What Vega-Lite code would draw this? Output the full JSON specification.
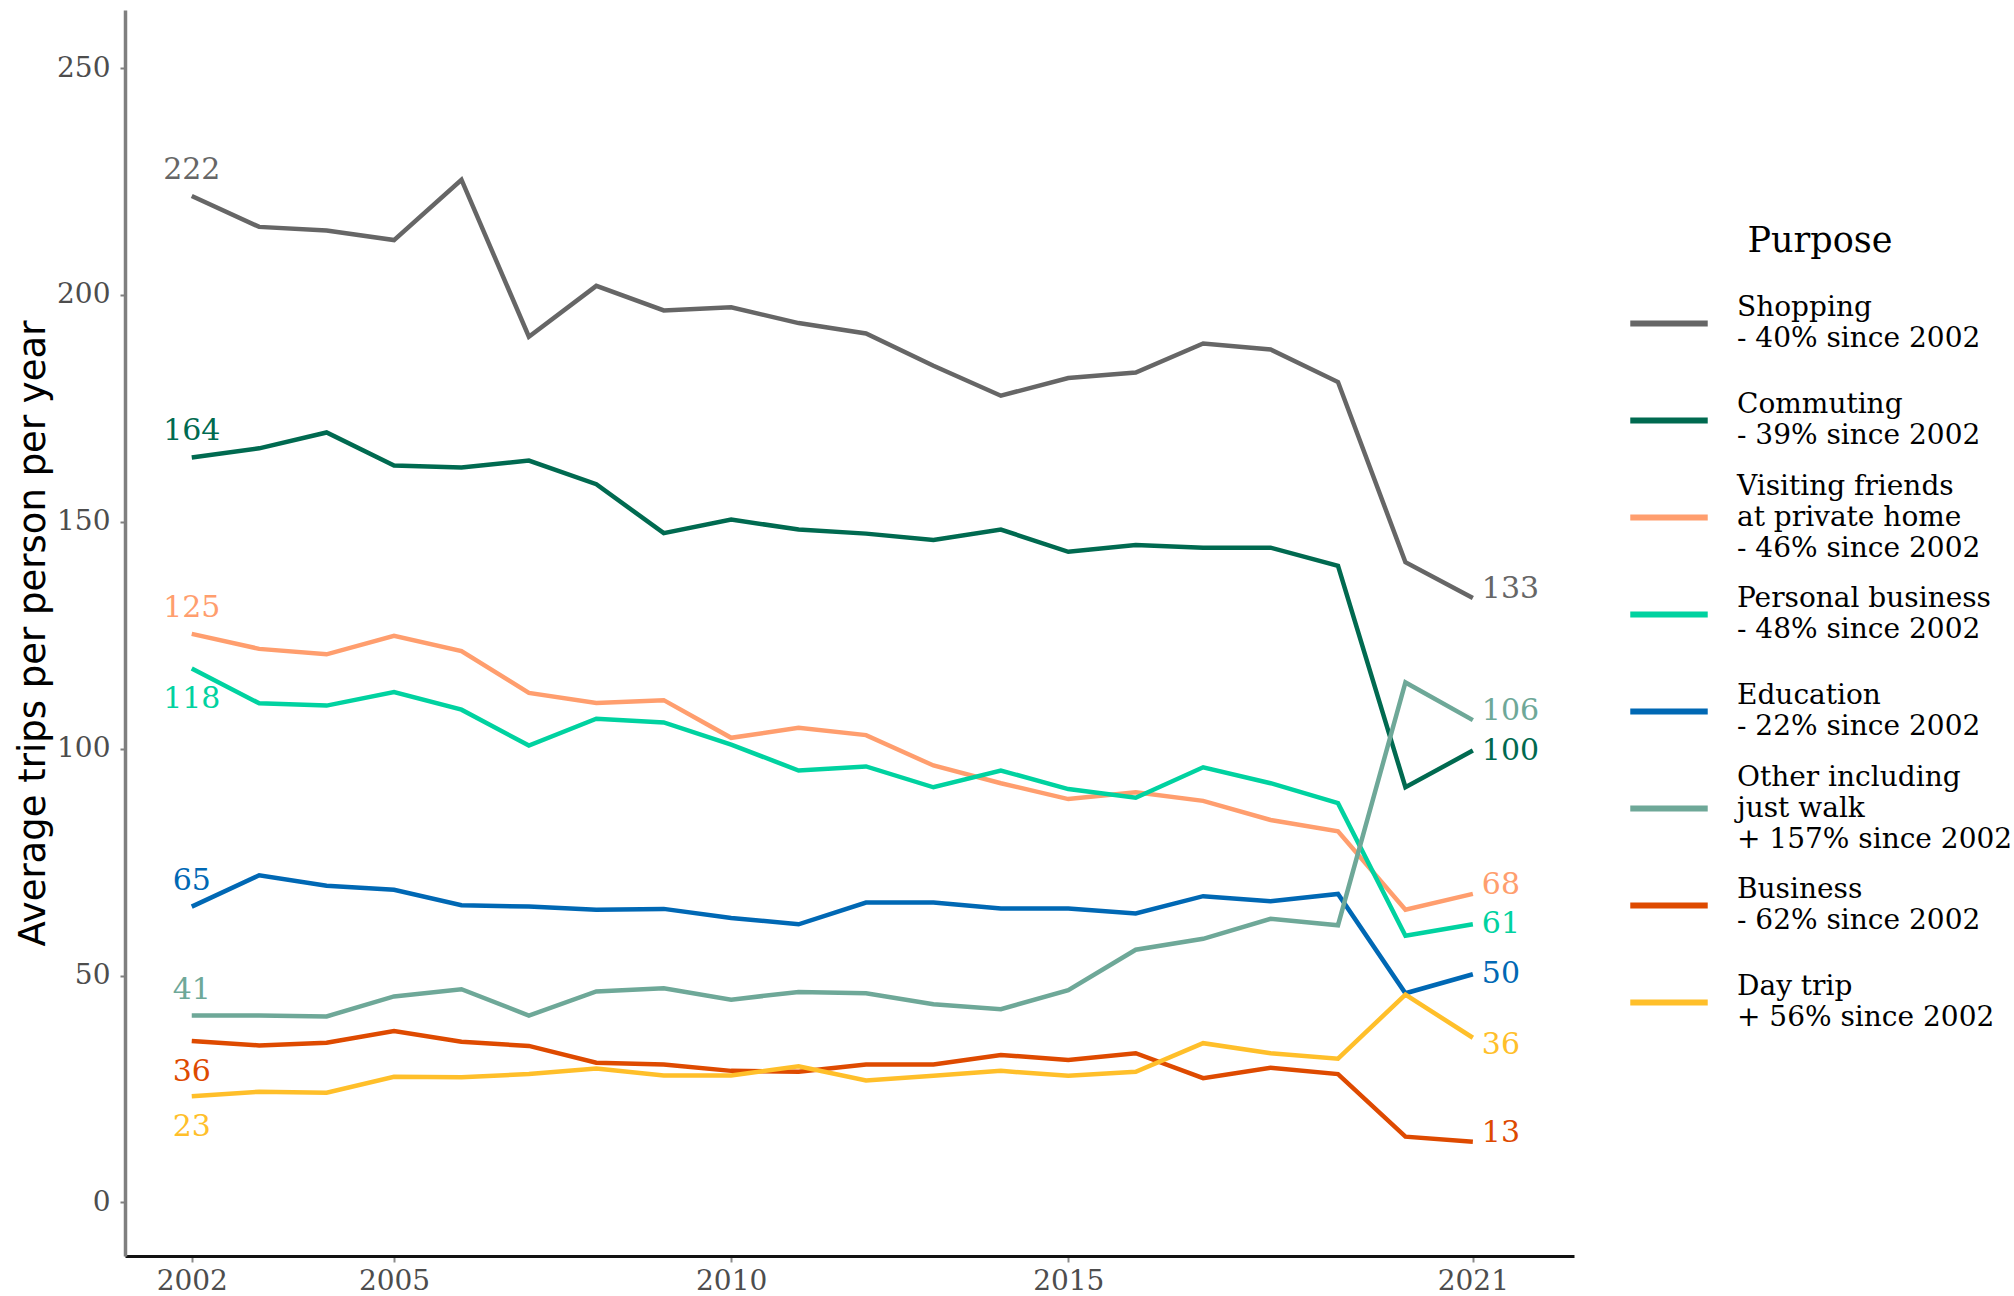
{
  "$schema": "https://vega.github.io/schema/vega-lite/v6.json",
  "width": 1449,
  "height": 1246,
  "autosize": {"type": "none"},
  "padding": {"left": 125, "top": 10, "right": 440, "bottom": 40},
  "background": "white",
  "config": {"view": {"stroke": null}, "font": "DejaVu Serif"},
  "data": {"values": [
    {"purpose":"Shopping","year":2002,"trips":221.8},{"purpose":"Shopping","year":2003,"trips":215.0},{"purpose":"Shopping","year":2004,"trips":214.2},{"purpose":"Shopping","year":2005,"trips":212.1},{"purpose":"Shopping","year":2006,"trips":225.4},{"purpose":"Shopping","year":2007,"trips":190.8},{"purpose":"Shopping","year":2008,"trips":202.0},{"purpose":"Shopping","year":2009,"trips":196.6},{"purpose":"Shopping","year":2010,"trips":197.3},{"purpose":"Shopping","year":2011,"trips":193.8},{"purpose":"Shopping","year":2012,"trips":191.5},{"purpose":"Shopping","year":2013,"trips":184.4},{"purpose":"Shopping","year":2014,"trips":177.8},{"purpose":"Shopping","year":2015,"trips":181.7},{"purpose":"Shopping","year":2016,"trips":182.9},{"purpose":"Shopping","year":2017,"trips":189.3},{"purpose":"Shopping","year":2018,"trips":188.0},{"purpose":"Shopping","year":2019,"trips":180.8},{"purpose":"Shopping","year":2020,"trips":141.1},{"purpose":"Shopping","year":2021,"trips":133.2},
    {"purpose":"Commuting","year":2002,"trips":164.2},{"purpose":"Commuting","year":2003,"trips":166.2},{"purpose":"Commuting","year":2004,"trips":169.7},{"purpose":"Commuting","year":2005,"trips":162.4},{"purpose":"Commuting","year":2006,"trips":162.0},{"purpose":"Commuting","year":2007,"trips":163.5},{"purpose":"Commuting","year":2008,"trips":158.3},{"purpose":"Commuting","year":2009,"trips":147.5},{"purpose":"Commuting","year":2010,"trips":150.5},{"purpose":"Commuting","year":2011,"trips":148.3},{"purpose":"Commuting","year":2012,"trips":147.4},{"purpose":"Commuting","year":2013,"trips":146.0},{"purpose":"Commuting","year":2014,"trips":148.3},{"purpose":"Commuting","year":2015,"trips":143.4},{"purpose":"Commuting","year":2016,"trips":144.9},{"purpose":"Commuting","year":2017,"trips":144.3},{"purpose":"Commuting","year":2018,"trips":144.3},{"purpose":"Commuting","year":2019,"trips":140.3},{"purpose":"Commuting","year":2020,"trips":91.5},{"purpose":"Commuting","year":2021,"trips":99.6},
    {"purpose":"Visiting friends at private home","year":2002,"trips":125.3},{"purpose":"Visiting friends at private home","year":2003,"trips":122.0},{"purpose":"Visiting friends at private home","year":2004,"trips":120.8},{"purpose":"Visiting friends at private home","year":2005,"trips":124.9},{"purpose":"Visiting friends at private home","year":2006,"trips":121.5},{"purpose":"Visiting friends at private home","year":2007,"trips":112.3},{"purpose":"Visiting friends at private home","year":2008,"trips":110.1},{"purpose":"Visiting friends at private home","year":2009,"trips":110.7},{"purpose":"Visiting friends at private home","year":2010,"trips":102.4},{"purpose":"Visiting friends at private home","year":2011,"trips":104.6},{"purpose":"Visiting friends at private home","year":2012,"trips":103.0},{"purpose":"Visiting friends at private home","year":2013,"trips":96.3},{"purpose":"Visiting friends at private home","year":2014,"trips":92.4},{"purpose":"Visiting friends at private home","year":2015,"trips":88.9},{"purpose":"Visiting friends at private home","year":2016,"trips":90.4},{"purpose":"Visiting friends at private home","year":2017,"trips":88.5},{"purpose":"Visiting friends at private home","year":2018,"trips":84.3},{"purpose":"Visiting friends at private home","year":2019,"trips":81.8},{"purpose":"Visiting friends at private home","year":2020,"trips":64.5},{"purpose":"Visiting friends at private home","year":2021,"trips":68.0},
    {"purpose":"Personal business","year":2002,"trips":117.7},{"purpose":"Personal business","year":2003,"trips":110.0},{"purpose":"Personal business","year":2004,"trips":109.5},{"purpose":"Personal business","year":2005,"trips":112.5},{"purpose":"Personal business","year":2006,"trips":108.6},{"purpose":"Personal business","year":2007,"trips":100.7},{"purpose":"Personal business","year":2008,"trips":106.6},{"purpose":"Personal business","year":2009,"trips":105.8},{"purpose":"Personal business","year":2010,"trips":100.9},{"purpose":"Personal business","year":2011,"trips":95.2},{"purpose":"Personal business","year":2012,"trips":96.1},{"purpose":"Personal business","year":2013,"trips":91.5},{"purpose":"Personal business","year":2014,"trips":95.2},{"purpose":"Personal business","year":2015,"trips":91.1},{"purpose":"Personal business","year":2016,"trips":89.2},{"purpose":"Personal business","year":2017,"trips":95.9},{"purpose":"Personal business","year":2018,"trips":92.4},{"purpose":"Personal business","year":2019,"trips":88.0},{"purpose":"Personal business","year":2020,"trips":58.8},{"purpose":"Personal business","year":2021,"trips":61.3},
    {"purpose":"Education","year":2002,"trips":65.2},{"purpose":"Education","year":2003,"trips":72.1},{"purpose":"Education","year":2004,"trips":69.8},{"purpose":"Education","year":2005,"trips":68.9},{"purpose":"Education","year":2006,"trips":65.5},{"purpose":"Education","year":2007,"trips":65.2},{"purpose":"Education","year":2008,"trips":64.5},{"purpose":"Education","year":2009,"trips":64.7},{"purpose":"Education","year":2010,"trips":62.7},{"purpose":"Education","year":2011,"trips":61.3},{"purpose":"Education","year":2012,"trips":66.1},{"purpose":"Education","year":2013,"trips":66.1},{"purpose":"Education","year":2014,"trips":64.8},{"purpose":"Education","year":2015,"trips":64.8},{"purpose":"Education","year":2016,"trips":63.7},{"purpose":"Education","year":2017,"trips":67.5},{"purpose":"Education","year":2018,"trips":66.4},{"purpose":"Education","year":2019,"trips":68.0},{"purpose":"Education","year":2020,"trips":46.1},{"purpose":"Education","year":2021,"trips":50.3},
    {"purpose":"Other including just walk","year":2002,"trips":41.2},{"purpose":"Other including just walk","year":2003,"trips":41.2},{"purpose":"Other including just walk","year":2004,"trips":41.0},{"purpose":"Other including just walk","year":2005,"trips":45.4},{"purpose":"Other including just walk","year":2006,"trips":47.0},{"purpose":"Other including just walk","year":2007,"trips":41.2},{"purpose":"Other including just walk","year":2008,"trips":46.5},{"purpose":"Other including just walk","year":2009,"trips":47.2},{"purpose":"Other including just walk","year":2010,"trips":44.7},{"purpose":"Other including just walk","year":2011,"trips":46.4},{"purpose":"Other including just walk","year":2012,"trips":46.1},{"purpose":"Other including just walk","year":2013,"trips":43.7},{"purpose":"Other including just walk","year":2014,"trips":42.6},{"purpose":"Other including just walk","year":2015,"trips":46.8},{"purpose":"Other including just walk","year":2016,"trips":55.7},{"purpose":"Other including just walk","year":2017,"trips":58.1},{"purpose":"Other including just walk","year":2018,"trips":62.5},{"purpose":"Other including just walk","year":2019,"trips":61.1},{"purpose":"Other including just walk","year":2020,"trips":114.6},{"purpose":"Other including just walk","year":2021,"trips":106.3},
    {"purpose":"Business","year":2002,"trips":35.6},{"purpose":"Business","year":2003,"trips":34.6},{"purpose":"Business","year":2004,"trips":35.2},{"purpose":"Business","year":2005,"trips":37.8},{"purpose":"Business","year":2006,"trips":35.4},{"purpose":"Business","year":2007,"trips":34.5},{"purpose":"Business","year":2008,"trips":30.8},{"purpose":"Business","year":2009,"trips":30.4},{"purpose":"Business","year":2010,"trips":29.0},{"purpose":"Business","year":2011,"trips":28.8},{"purpose":"Business","year":2012,"trips":30.4},{"purpose":"Business","year":2013,"trips":30.4},{"purpose":"Business","year":2014,"trips":32.5},{"purpose":"Business","year":2015,"trips":31.4},{"purpose":"Business","year":2016,"trips":32.9},{"purpose":"Business","year":2017,"trips":27.4},{"purpose":"Business","year":2018,"trips":29.7},{"purpose":"Business","year":2019,"trips":28.3},{"purpose":"Business","year":2020,"trips":14.5},{"purpose":"Business","year":2021,"trips":13.4},
    {"purpose":"Day trip","year":2002,"trips":23.4},{"purpose":"Day trip","year":2003,"trips":24.4},{"purpose":"Day trip","year":2004,"trips":24.2},{"purpose":"Day trip","year":2005,"trips":27.7},{"purpose":"Day trip","year":2006,"trips":27.6},{"purpose":"Day trip","year":2007,"trips":28.3},{"purpose":"Day trip","year":2008,"trips":29.5},{"purpose":"Day trip","year":2009,"trips":28.0},{"purpose":"Day trip","year":2010,"trips":28.0},{"purpose":"Day trip","year":2011,"trips":30.0},{"purpose":"Day trip","year":2012,"trips":26.9},{"purpose":"Day trip","year":2013,"trips":27.9},{"purpose":"Day trip","year":2014,"trips":29.0},{"purpose":"Day trip","year":2015,"trips":27.9},{"purpose":"Day trip","year":2016,"trips":28.8},{"purpose":"Day trip","year":2017,"trips":35.1},{"purpose":"Day trip","year":2018,"trips":32.9},{"purpose":"Day trip","year":2019,"trips":31.7},{"purpose":"Day trip","year":2020,"trips":45.8},{"purpose":"Day trip","year":2021,"trips":36.3}
  ]},
  "encoding": {
    "x": {
      "field": "year", "type": "quantitative",
      "scale": {"domain": [2001.01, 2022.5], "nice": false, "zero": false},
      "axis": {
        "title": null, "values": [2002, 2005, 2010, 2015, 2021], "format": "d", "grid": false,
        "domainColor": "#111111", "domainWidth": 3, "tickColor": "#8a8a8a", "tickWidth": 2, "tickSize": 6,
        "labelFont": "DejaVu Serif", "labelFontSize": 28, "labelColor": "#4d4d4d", "labelPadding": 5
      }
    },
    "y": {
      "field": "trips", "type": "quantitative",
      "scale": {"domain": [-11.8, 262.8], "nice": false, "zero": false},
      "axis": {
        "title": "Average trips per person per year", "values": [0, 50, 100, 150, 200, 250], "grid": false,
        "domainColor": "#7f7f7f", "domainWidth": 3.5, "tickColor": "#7f7f7f", "tickWidth": 2, "tickSize": 5,
        "labelFont": "DejaVu Serif", "labelFontSize": 28, "labelColor": "#4d4d4d", "labelPadding": 10,
        "titleFont": "DejaVu Sans", "titleFontSize": 37, "titleFontWeight": "normal", "titleColor": "#000000", "titlePadding": 4
      }
    },
    "color": {
      "field": "purpose", "type": "nominal",
      "scale": {
        "domain": ["Shopping", "Commuting", "Visiting friends at private home", "Personal business", "Education", "Other including just walk", "Business", "Day trip"],
        "range": ["#666666", "#006a50", "#ff9e6e", "#00d2a0", "#0068b4", "#6ea898", "#de4a00", "#ffbf2a"]
      },
      "legend": {
        "title": "Purpose", "orient": "none", "legendX": 1502, "legendY": 214, "padding": 0,
        "titleFont": "DejaVu Serif", "titleFontSize": 35, "titleFontWeight": "normal", "titleColor": "#000000",
        "titleAnchor": "middle", "titlePadding": 18,
        "labelFont": "DejaVu Serif", "labelFontSize": 28, "labelColor": "#000000", "labelLimit": 500, "labelOffset": 26,
        "symbolType": "stroke", "symbolSize": 6000, "symbolStrokeWidth": 6,
        "gridAlign": "all", "rowPadding": 4, "clipHeight": 93,
        "labelExpr": "{'Shopping':['Shopping','- 40% since 2002'],'Commuting':['Commuting','- 39% since 2002'],'Visiting friends at private home':['Visiting friends','at private home','- 46% since 2002'],'Personal business':['Personal business','- 48% since 2002'],'Education':['Education','- 22% since 2002'],'Other including just walk':['Other including','just walk','+ 157% since 2002'],'Business':['Business','- 62% since 2002'],'Day trip':['Day trip','+ 56% since 2002']}[datum.label]",
        "encode": {"labels": {"update": {
          "lineHeight": {"value": 31},
          "dy": {"signal": "(datum.value == 'Visiting friends at private home' || datum.value == 'Other including just walk') ? -31 : -15.5"}
        }}}
      }
    }
  },
  "layer": [
    {"mark": {"type": "line", "strokeWidth": 4.5}},
    {
      "transform": [
        {"filter": "datum.year == 2002"},
        {"filter": {"not": {"field": "purpose", "oneOf": ["Personal business", "Business", "Day trip"]}}}
      ],
      "mark": {"type": "text", "dy": -26, "fontSize": 30, "font": "DejaVu Serif", "align": "center", "baseline": "middle"},
      "encoding": {
        "text": {"field": "trips", "type": "quantitative", "format": ".0f"},
        "color": {"field": "purpose", "type": "nominal", "legend": null}
      }
    },
    {
      "transform": [
        {"filter": "datum.year == 2002"},
        {"filter": {"field": "purpose", "oneOf": ["Personal business", "Business", "Day trip"]}}
      ],
      "mark": {"type": "text", "dy": 31, "fontSize": 30, "font": "DejaVu Serif", "align": "center", "baseline": "middle"},
      "encoding": {
        "text": {"field": "trips", "type": "quantitative", "format": ".0f"},
        "color": {"field": "purpose", "type": "nominal", "legend": null}
      }
    },
    {
      "transform": [
        {"filter": "datum.year == 2021"},
        {"filter": {"field": "purpose", "oneOf": ["Shopping", "Other including just walk", "Visiting friends at private home", "Business"]}}
      ],
      "mark": {"type": "text", "dx": 9, "dy": -9, "fontSize": 30, "font": "DejaVu Serif", "align": "left", "baseline": "middle"},
      "encoding": {
        "text": {"field": "trips", "type": "quantitative", "format": ".0f"},
        "color": {"field": "purpose", "type": "nominal", "legend": null}
      }
    },
    {
      "transform": [
        {"filter": "datum.year == 2021"},
        {"filter": {"field": "purpose", "oneOf": ["Commuting", "Personal business", "Education"]}}
      ],
      "mark": {"type": "text", "dx": 9, "dy": 0, "fontSize": 30, "font": "DejaVu Serif", "align": "left", "baseline": "middle"},
      "encoding": {
        "text": {"field": "trips", "type": "quantitative", "format": ".0f"},
        "color": {"field": "purpose", "type": "nominal", "legend": null}
      }
    },
    {
      "transform": [
        {"filter": "datum.year == 2021"},
        {"filter": {"field": "purpose", "equal": "Day trip"}}
      ],
      "mark": {"type": "text", "dx": 9, "dy": 7, "fontSize": 30, "font": "DejaVu Serif", "align": "left", "baseline": "middle"},
      "encoding": {
        "text": {"field": "trips", "type": "quantitative", "format": ".0f"},
        "color": {"field": "purpose", "type": "nominal", "legend": null}
      }
    }
  ]
}
